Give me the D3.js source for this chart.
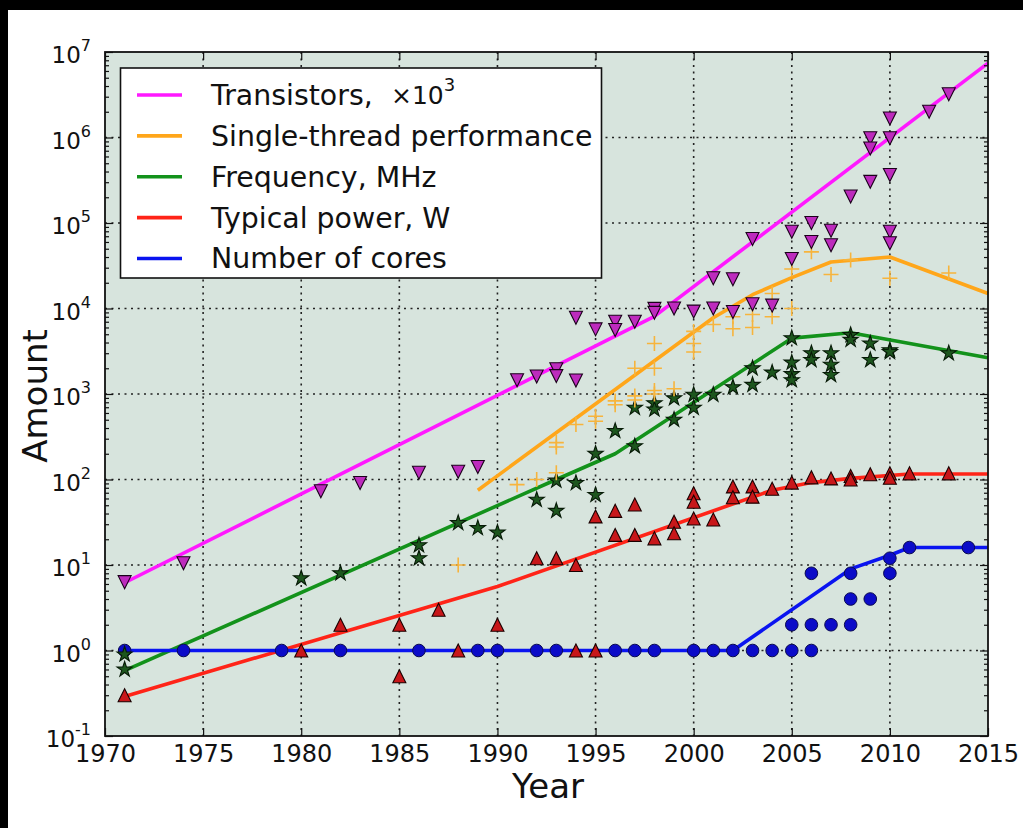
<!DOCTYPE html>
<html>
<head>
<meta charset="utf-8">
<script src="https://cdn.jsdelivr.net/npm/d3@7"></script>
<style>
  html, body { margin: 0; padding: 0; background: #fff; }
  svg { display: block; }
  text { font-family: "DejaVu Sans", sans-serif; fill: #111; }
</style>
</head>
<body>
<svg id="chart" width="1023" height="828"></svg>
<script>
// ---- Microprocessor trend data, 1971-2015 ----

// Transistor counts (in thousands)
const transistorYears = [1971,1974,1981,1983,1986,1988,1989,1991,1992,1993,1993,1994,1994,1995,1996,1996,1997,1998,1998,1999,2000,2001,2001,2002,2002,2003,2003,2004,2005,2005,2006,2006,2007,2007,2008,2009,2009,2009,2010,2010,2010,2010,2010,2012,2013];
const transistorValues = [6.3,10.5,73,91,120,123,140,1450,1600,1950,1620,1440,7800,5700,7000,5600,7000,9900,8900,10000,9200,10000,22600,9100,22000,11200,65000,10800,79000,38000,100000,60000,81000,55000,204000,980000,745000,303000,1670000,980000,364000,79000,58000,2000000,3200000];

// Single-thread performance
const singleYears = [1988,1991,1992,1993,1993,1993,1994,1995,1995,1996,1996,1997,1997,1997,1998,1998,1998,1998,1999,2000,2000,2000,2001,2002,2002,2003,2003,2004,2004,2005,2005,2006,2007,2008,2010,2013];
const singleValues = [10,87,100,120,240,270,440,550,480,830,750,950,850,2000,1100,1000,2000,3900,1150,5400,3900,3100,6500,8000,5800,8500,6000,15000,8000,29000,10000,46000,25000,37000,22600,26000];

// Clock frequency, MHz
const freqYears = [1971,1971,1980,1982,1986,1986,1988,1989,1990,1992,1993,1993,1994,1995,1995,1996,1997,1997,1998,1998,1999,1999,2000,2000,2001,2002,2003,2003,2004,2005,2005,2005,2005,2006,2006,2007,2007,2007,2008,2008,2009,2009,2010,2010,2013];
const freqValues = [0.9,0.6,7,8,17,12,31,27,24,58,43,97,91,200,66,370,690,245,780,660,890,500,980,690,980,1200,2000,1280,1780,4500,2330,1710,1450,3000,2500,3000,2200,1670,4900,4300,3900,2500,3250,3100,3000];

// Typical power, W
const powerYears = [1971,1980,1982,1985,1985,1987,1988,1990,1992,1993,1994,1994,1995,1995,1996,1996,1997,1997,1998,1999,1999,2000,2000,2000,2001,2002,2002,2003,2003,2004,2005,2006,2007,2008,2008,2009,2010,2010,2011,2013];
const powerValues = [0.3,1,2,2,0.5,3,1,2,12,12,10,1,37,1,43,22.5,51,22.5,20.5,32,23.5,69,55,35,34,83,62,83,63,78,92,106,103,110,100,115,118,105,118,118];

// Number of logical cores
const coreYears = [1971,1974,1979,1982,1986,1989,1990,1992,1993,1996,1997,1998,2000,2001,2002,2003,2004,2005,2006,2005,2006,2007,2008,2008,2009,2006,2008,2010,2010,2011,2014];
const coreValues = [1,1,1,1,1,1,1,1,1,1,1,1,1,1,1,1,1,1,1,2,2,2,2,4,4,8,8,8,12,16,16];

// Piecewise trend lines
const transistorTrendYears = [1971, 1998, 2015];
const transistorTrendValues = [6.2, 8100, 7.4e6];
const singleTrendYears = [1989, 2001, 2003, 2005, 2007, 2010, 2015];
const singleTrendValues = [75, 7800, 14500, 23000, 35000, 40000, 15000];
const freqTrendYears = [1971, 1993, 1996, 2005, 2008, 2015];
const freqTrendValues = [0.58, 100, 200, 4500, 5200, 2650];
const powerTrendYears = [1971, 1990, 2004, 2006, 2008, 2011, 2015];
const powerTrendValues = [0.29, 5.6, 75, 92, 103, 116, 116];
const coreTrendYears = [1971, 2002, 2008, 2010, 2011, 2015];
const coreTrendValues = [1, 1, 9, 13, 16, 16];

// Axis ticks
const xTickValues = [1970, 1975, 1980, 1985, 1990, 1995, 2000, 2005, 2010, 2015];
const yTickExponents = [-1, 0, 1, 2, 3, 4, 5, 6, 7];

const legendLabels = ["Transistors,", "Single-thread performance", "Frequency, MHz", "Typical power, W", "Number of cores"];

// ---- Layout ----
const svg = d3.select("#chart");
const plot = { left: 105, right: 988, top: 52, bottom: 736 };

const x = d3.scaleLinear().domain([1970, 2015]).range([plot.left, plot.right]);
const y = d3.scaleLog().domain([0.1, 1e7]).range([plot.bottom, plot.top]);

// Dark margins along the top and left edges
svg.append("rect").attr("x", 0).attr("y", 0).attr("width", 1023).attr("height", 10).attr("fill", "#000");
svg.append("rect").attr("x", 0).attr("y", 0).attr("width", 8).attr("height", 828).attr("fill", "#000");

// Plot background
svg.append("rect")
  .attr("x", plot.left).attr("y", plot.top)
  .attr("width", plot.right - plot.left).attr("height", plot.bottom - plot.top)
  .attr("fill", "#d7e4dd");

// Dotted grid
const grid = svg.append("g").attr("stroke", "#222").attr("stroke-width", 1.6)
  .attr("stroke-dasharray", "2,4.5");
grid.selectAll("line.gx").data(xTickValues.slice(1, -1)).join("line")
  .attr("x1", d => x(d)).attr("x2", d => x(d))
  .attr("y1", plot.top).attr("y2", plot.bottom);
grid.selectAll("line.gy").data(yTickExponents.slice(1, -1)).join("line")
  .attr("y1", d => y(Math.pow(10, d))).attr("y2", d => y(Math.pow(10, d)))
  .attr("x1", plot.left).attr("x2", plot.right);

// Trend lines
const lineGen = d3.line().x(d => x(d[0])).y(d => y(d[1])).curve(d3.curveMonotoneX);
const trends = [
  { years: transistorTrendYears, values: transistorTrendValues, color: "#ff19ff" },
  { years: singleTrendYears, values: singleTrendValues, color: "#ffa61a" },
  { years: freqTrendYears, values: freqTrendValues, color: "#13921b" },
  { years: powerTrendYears, values: powerTrendValues, color: "#ff2418" },
  { years: coreTrendYears, values: coreTrendValues, color: "#0a14f0" }
];
const straight = d3.line().x(d => x(d[0])).y(d => y(d[1]));
svg.append("g").selectAll("path").data(trends).join("path")
  .attr("d", t => straight(d3.zip(t.years, t.values)))
  .attr("fill", "none").attr("stroke", t => t.color)
  .attr("stroke-width", 3.6).attr("stroke-linejoin", "round");

// Marker shapes
const triUp = r => `M0,${-r}L${r},${r}L${-r},${r}Z`;
const triDown = r => `M0,${r}L${r},${-r}L${-r},${-r}Z`;
const plus = r => `M${-r},0H${r}M0,${-r}V${r}`;
const starPath = d3.symbol(d3.symbolStar, 72)();
const circlePath = d3.symbol(d3.symbolCircle, 125)();

function drawMarkers(years, values, path, fill, stroke, strokeWidth) {
  svg.append("g").selectAll("path").data(d3.zip(years, values)).join("path")
    .attr("transform", d => `translate(${x(d[0])},${y(d[1])})`)
    .attr("d", path)
    .attr("fill", fill).attr("stroke", stroke).attr("stroke-width", strokeWidth);
}

drawMarkers(coreYears, coreValues, circlePath, "#0b0bc8", "#0a0a50", 1);
drawMarkers(powerYears, powerValues, triUp(6.5), "#c8171a", "#1a0000", 1.1);
drawMarkers(freqYears, freqValues, starPath, "#1d561e", "#071a07", 1.1);
drawMarkers(singleYears, singleValues, plus(7.5), "none", "#f7b43c", 1.6);
drawMarkers(transistorYears, transistorValues, triDown(6.5), "#bd2bbd", "#1a001a", 1.1);

// Axes with inward ticks on all four sides
const minorTicks = [];
for (let e = -1; e < 7; e++) for (let m = 2; m <= 9; m++) minorTicks.push(m * Math.pow(10, e));
const majorY = yTickExponents.map(e => Math.pow(10, e));

function styleAxis(g) {
  g.select(".domain").remove();
  g.selectAll(".tick line").attr("stroke", "#111").attr("stroke-width", 1.2);
}

svg.append("g").attr("transform", `translate(0,${plot.bottom})`)
  .call(d3.axisBottom(x).tickValues(xTickValues).tickFormat(d3.format("d")).tickSize(-8).tickPadding(9))
  .call(styleAxis)
  .call(g => g.selectAll("text").attr("font-size", 24).attr("font-family", "DejaVu Sans").attr("fill", "#111"));
svg.append("g").attr("transform", `translate(0,${plot.top})`)
  .call(d3.axisTop(x).tickValues(xTickValues).tickFormat("").tickSize(-8))
  .call(styleAxis);
svg.append("g").attr("transform", `translate(${plot.left},0)`)
  .call(d3.axisLeft(y).tickValues(majorY).tickFormat("").tickSize(-8))
  .call(styleAxis);
svg.append("g").attr("transform", `translate(${plot.left},0)`)
  .call(d3.axisLeft(y).tickValues(minorTicks).tickFormat("").tickSize(-4))
  .call(styleAxis);
svg.append("g").attr("transform", `translate(${plot.right},0)`)
  .call(d3.axisRight(y).tickValues(majorY).tickFormat("").tickSize(-8))
  .call(styleAxis);
svg.append("g").attr("transform", `translate(${plot.right},0)`)
  .call(d3.axisRight(y).tickValues(minorTicks).tickFormat("").tickSize(-4))
  .call(styleAxis);

// Y tick labels as powers of ten
const yLab = svg.append("g").selectAll("text").data(yTickExponents).join("text")
  .attr("x", 91)
  .attr("y", d => y(Math.pow(10, d)) + 11)
  .attr("text-anchor", "end")
  .attr("font-size", 23);
yLab.append("tspan").text("10");
yLab.append("tspan").attr("dy", -12).attr("font-size", 16).text(d => String(d));

// Frame
svg.append("rect")
  .attr("x", plot.left).attr("y", plot.top)
  .attr("width", plot.right - plot.left).attr("height", plot.bottom - plot.top)
  .attr("fill", "none").attr("stroke", "#111").attr("stroke-width", 1.8);

// Axis titles
svg.append("text").attr("x", 548).attr("y", 798).attr("text-anchor", "middle")
  .attr("font-size", 34).text("Year");
svg.append("text").attr("transform", "translate(47,396) rotate(-90)")
  .attr("text-anchor", "middle").attr("font-size", 34).text("Amount");

// Legend
const legend = svg.append("g");
legend.append("rect").attr("x", 120.5).attr("y", 68).attr("width", 481).attr("height", 210)
  .attr("fill", "#fff").attr("stroke", "#111").attr("stroke-width", 1.6);
const rowY = d3.scalePoint().domain(d3.range(legendLabels.length)).range([95, 258.5]);
const rows = legend.selectAll("g.row").data(legendLabels).join("g")
  .attr("transform", (d, i) => `translate(0,${rowY(i)})`);
rows.append("line").attr("x1", 137).attr("x2", 182).attr("y1", 0).attr("y2", 0)
  .attr("stroke", (d, i) => trends[i].color).attr("stroke-width", 3.6);
rows.append("text").attr("x", 211).attr("dy", "0.35em").attr("font-size", 28.4).text(d => d);

const mult = rows.filter((d, i) => i === 0).append("text")
  .attr("x", 391).attr("dy", "0.35em")
  .attr("font-family", "DejaVu Serif, serif").attr("font-size", 25);
mult.append("tspan").text("×10");
mult.append("tspan").attr("dy", -13).attr("font-size", 18).text("3");
</script>
</body>
</html>
